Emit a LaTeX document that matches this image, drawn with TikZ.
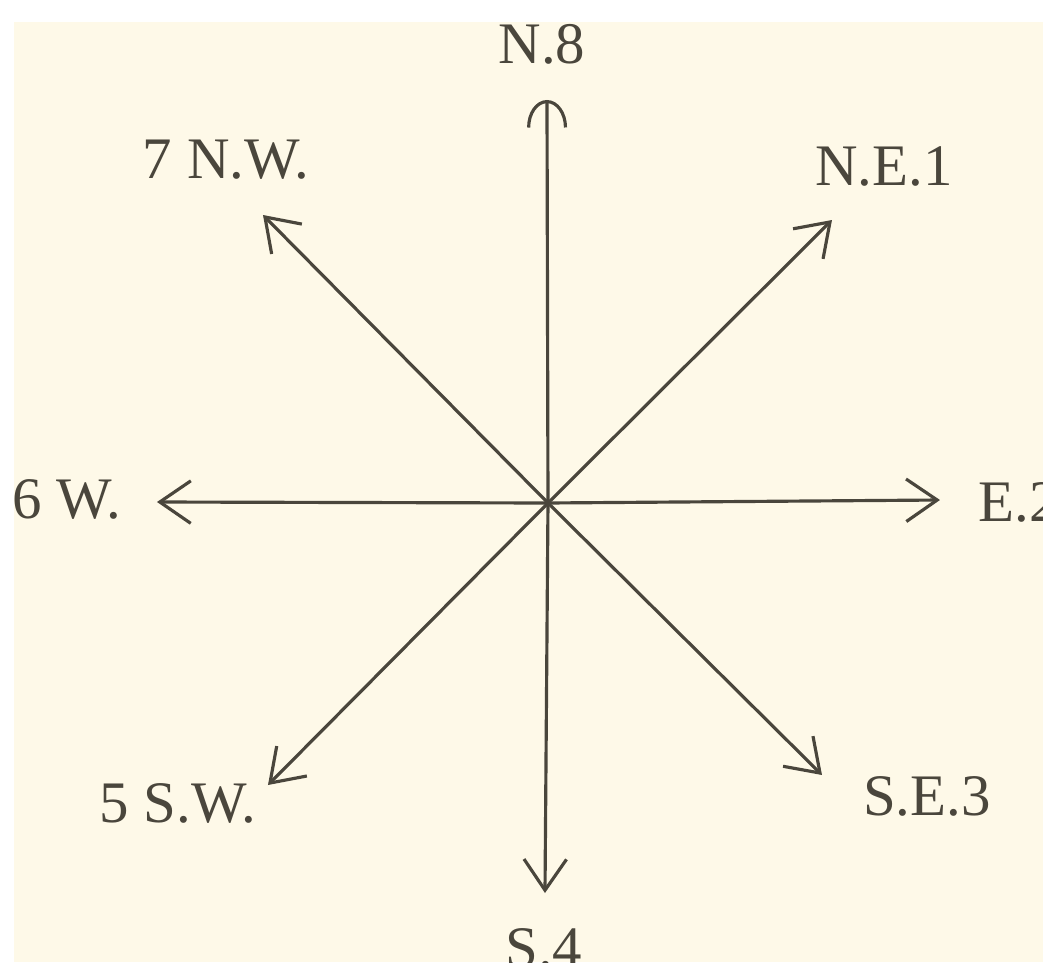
\documentclass[tikz,border=0pt]{standalone}
\usepackage{fontspec}
\setmainfont{Liberation Serif}
\usepackage{xcolor}
\definecolor{paper}{HTML}{FEF9E8}
\definecolor{ink}{HTML}{4A463C}
\usepackage{tikz}
\usetikzlibrary{arrows.meta}

\tikzset{
  ray/.style={draw=ink, line width=1.8pt, -{Straight Barb[length=0.62cm, width=0.85cm]}},
  point/.style={text=ink, inner sep=0pt, font=\fontsize{33.5}{40}\selectfont}
}

\begin{document}
\begin{tikzpicture}
  \useasboundingbox (-10.96,-9.18) rectangle (9.90,10.06);
  \fill[paper] (-10.68,-9.18) rectangle (9.90,9.62);
  \clip (-10.68,-9.18) rectangle (9.90,9.62);
  % the eight points of the compass
  \coordinate (O) at (0,0);
  \coordinate (tN)  at (-0.02,8.06);
  \coordinate (tNE) at (5.68,5.66);
  \coordinate (tE)  at (7.84,0.06);
  \coordinate (tSE) at (5.48,-5.44);
  \coordinate (tS)  at (-0.06,-7.80);
  \coordinate (tSW) at (-5.60,-5.64);
  \coordinate (tW)  at (-7.82,0.02);
  \coordinate (tNW) at (-5.70,5.76);
  \draw[ray, -{Arc Barb[length=0.55cm, width=0.8cm]}] (O) -- (tN);
  \foreach \t in {tNE,tE,tSE,tS,tSW,tW,tNW} {
    \draw[ray] (O) -- (\t);
  }
  % labels
  \node[point, anchor=base] (lN)  at (-0.12,8.80) {N.8};
  \node[point, anchor=base] (lNE) at (6.72,6.36) {N.E.1};
  \node[point, anchor=base west] (lE) at (8.60,-0.36) {E.2};
  \node[point, anchor=base] (lSE) at (7.58,-6.24) {S.E.3};
  \node[point, anchor=base] (lS)  at (-0.08,-9.28) {S.4};
  \node[point, anchor=base] (lSW) at (-7.40,-6.38) {5 S.W.};
  \node[point, anchor=base east] (lW) at (-8.52,-0.30) {6 W.};
  \node[point, anchor=base] (lNW) at (-6.44,6.50) {7 N.W.};
\end{tikzpicture}
\end{document}
